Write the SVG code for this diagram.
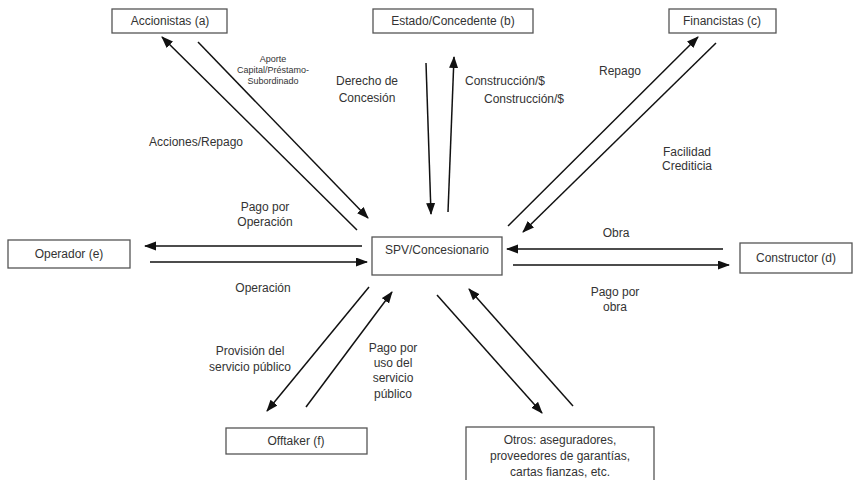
<svg xmlns="http://www.w3.org/2000/svg" width="855" height="480" viewBox="0 0 855 480">
<style>
.box{fill:#fff;stroke:#555;stroke-width:1.3}
.t{font-family:"Liberation Sans",Arial,sans-serif;font-size:12px;fill:#333;text-anchor:middle}
.s{font-family:"Liberation Sans",Arial,sans-serif;font-size:9px;fill:#333;text-anchor:middle}
.c{stroke:#111;stroke-width:1.5;fill:none}
.ca{stroke:#111;stroke-width:1.5;fill:none;marker-end:url(#ah)}
</style>
<defs>
<marker id="ah" markerUnits="userSpaceOnUse" markerWidth="12" markerHeight="10" refX="11" refY="4.5" orient="auto">
<path d="M0,0 L12,4.5 L0,9 z" fill="#111"/>
</marker>
</defs>
<rect width="855" height="480" fill="#fff"/>
<g id="connectors">
<line class="ca" x1="357" y1="230" x2="162" y2="37"/>
<line class="ca" x1="198" y1="42" x2="368" y2="218"/>
<line class="ca" x1="426" y1="63" x2="431" y2="214"/>
<line class="ca" x1="448" y1="212" x2="454" y2="57"/>
<line class="ca" x1="508" y1="226" x2="698" y2="37"/>
<line class="ca" x1="716" y1="43" x2="523" y2="232"/>
<line class="ca" x1="362" y1="246" x2="145" y2="246"/>
<line class="ca" x1="150" y1="262" x2="367" y2="262"/>
<line class="ca" x1="723" y1="249" x2="507" y2="249"/>
<line class="ca" x1="513" y1="265" x2="729" y2="265"/>
<line class="ca" x1="369" y1="287" x2="267" y2="411"/>
<line class="ca" x1="306" y1="407" x2="392" y2="292"/>
<line class="ca" x1="437" y1="295" x2="542" y2="413"/>
<line class="ca" x1="573" y1="406" x2="469" y2="289"/>
</g>
<g id="labels">
<text class="s" x="273" y="62">Aporte</text>
<text class="s" x="273" y="73">Capital/Préstamo-</text>
<text class="s" x="273" y="84">Subordinado</text>
<text class="t" x="196" y="146">Acciones/Repago</text>
<text class="t" x="367" y="85">Derecho de</text>
<text class="t" x="367" y="102">Concesión</text>
<text class="t" x="505" y="85">Construcción/$</text>
<text class="t" x="524" y="103">Construcción/$</text>
<text class="t" x="620" y="75">Repago</text>
<text class="t" x="687" y="156">Facilidad</text>
<text class="t" x="687" y="170">Crediticia</text>
<text class="t" x="265" y="211">Pago por</text>
<text class="t" x="265" y="226">Operación</text>
<text class="t" x="263" y="292">Operación</text>
<text class="t" x="616" y="237">Obra</text>
<text class="t" x="615" y="296">Pago por</text>
<text class="t" x="615" y="311">obra</text>
<text class="t" x="250" y="355">Provisión del</text>
<text class="t" x="250" y="371">servicio público</text>
<text class="t" x="393" y="352">Pago por</text>
<text class="t" x="393" y="367">uso del</text>
<text class="t" x="393" y="382">servicio</text>
<text class="t" x="393" y="398">público</text>
</g>
<g id="accionistas"><rect class="box" x="112" y="9" width="115" height="24"/><text class="t" x="170" y="25">Accionistas (a)</text></g>
<g id="estado"><rect class="box" x="373" y="9" width="160" height="24"/><text class="t" x="453" y="25">Estado/Concedente (b)</text></g>
<g id="financistas"><rect class="box" x="669" y="9" width="107" height="24"/><text class="t" x="722" y="25">Financistas (c)</text></g>
<g id="operador"><rect class="box" x="8" y="240" width="122" height="28"/><text class="t" x="69" y="258">Operador (e)</text></g>
<g id="spv"><rect class="box" x="372" y="237" width="130" height="38"/><text class="t" x="437" y="254">SPV/Concesionario</text></g>
<g id="constructor"><rect class="box" x="740" y="243" width="112" height="30"/><text class="t" x="796" y="262">Constructor (d)</text></g>
<g id="offtaker"><rect class="box" x="226" y="428" width="141" height="26"/><text class="t" x="296" y="445">Offtaker (f)</text></g>
<g id="otros"><rect class="box" x="466" y="427" width="188" height="60"/><text class="t" x="560" y="444">Otros: aseguradores,</text><text class="t" x="560" y="460">proveedores de garantías,</text><text class="t" x="560" y="476">cartas fianzas, etc.</text></g>
</svg>
